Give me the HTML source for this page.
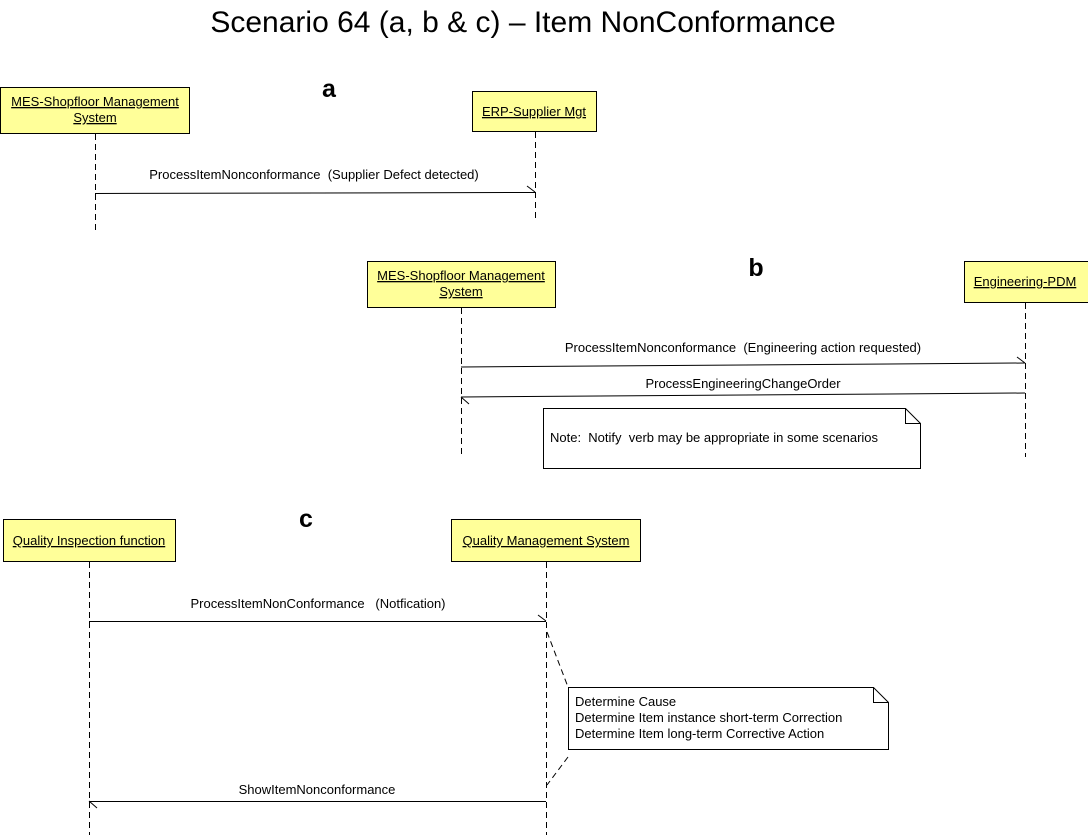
<!DOCTYPE html>
<html><head><meta charset="utf-8"><style>
html,body{margin:0;padding:0;background:#fff;width:1088px;height:835px;overflow:hidden}
svg{display:block}
text{font-family:"Liberation Sans",Arial,sans-serif;fill:#000;white-space:pre}
.s{font-size:13px}
.u{text-decoration:underline}
</style></head><body>
<svg width="1088" height="835" viewBox="0 0 1088 835" xml:space="preserve">
<text x="523" y="32" font-size="30" text-anchor="middle">Scenario 64 (a, b &amp; c) – Item NonConformance</text>
<text x="329" y="97" font-size="25" font-weight="bold" text-anchor="middle">a</text>
<text x="756" y="276" font-size="25" font-weight="bold" text-anchor="middle">b</text>
<text x="306" y="527" font-size="25" font-weight="bold" text-anchor="middle">c</text>

<g fill="#ffff99" stroke="#000" stroke-width="1">
<rect x="0.5" y="87.5" width="189" height="46"/>
<rect x="472.5" y="91.5" width="124" height="40"/>
<rect x="367.5" y="261.5" width="188" height="46"/>
<rect x="964.5" y="261.5" width="124" height="41"/>
<rect x="3.5" y="519.5" width="172" height="42"/>
<rect x="451.5" y="519.5" width="189" height="42"/>
</g>
<g class="s" text-anchor="middle">
<text x="95" y="106" class="u">MES-Shopfloor Management</text>
<text x="95" y="122" class="u">System</text>
<text x="534" y="116" class="u">ERP-Supplier Mgt</text>
<text x="461" y="280" class="u">MES-Shopfloor Management</text>
<text x="461" y="296" class="u">System</text>
<text x="1025" y="286" class="u">Engineering-PDM</text>
<text x="89" y="545" class="u">Quality Inspection function</text>
<text x="546" y="545" class="u">Quality Management System</text>
</g>

<g stroke="#000" stroke-width="1" stroke-dasharray="6,4" fill="none">
<line x1="95.5" y1="134" x2="95.5" y2="232"/>
<line x1="535.5" y1="132" x2="535.5" y2="222"/>
<line x1="461.5" y1="308" x2="461.5" y2="455"/>
<line x1="1025.5" y1="303" x2="1025.5" y2="457"/>
<line x1="89.5" y1="562" x2="89.5" y2="835"/>
<line x1="546.5" y1="562" x2="546.5" y2="835"/>
<line x1="547" y1="632" x2="568" y2="687"/>
<line x1="568" y1="757" x2="547" y2="785"/>
</g>

<g stroke="#000" stroke-width="1" fill="none">
<line x1="95" y1="193.5" x2="535" y2="192.5"/>
<line x1="527" y1="186" x2="535" y2="192"/>
<line x1="461" y1="367" x2="1025" y2="363"/>
<line x1="1017" y1="357" x2="1025" y2="363"/>
<line x1="1025" y1="393" x2="461" y2="397"/>
<line x1="469" y1="404" x2="461" y2="397"/>
<line x1="89" y1="621.5" x2="546" y2="621.5"/>
<line x1="538" y1="615" x2="546" y2="621"/>
<line x1="546" y1="801.5" x2="89" y2="801.5"/>
<line x1="97" y1="808" x2="89" y2="801"/>
</g>
<g class="s" text-anchor="middle">
<text x="314" y="179">ProcessItemNonconformance  (Supplier Defect detected)</text>
<text x="743" y="352">ProcessItemNonconformance  (Engineering action requested)</text>
<text x="743" y="388">ProcessEngineeringChangeOrder</text>
<text x="318" y="608">ProcessItemNonConformance   (Notfication)</text>
<text x="317" y="794">ShowItemNonconformance</text>
</g>

<g stroke="#000" stroke-width="1" fill="#fff">
<path d="M543.5 408.5 H905.5 L920.5 423.5 V468.5 H543.5 Z"/>
<path d="M905.5 408.5 V423.5 H920.5" fill="none"/>
<path d="M568.5 687.5 H873.5 L888.5 702.5 V749.5 H568.5 Z"/>
<path d="M873.5 687.5 V702.5 H888.5" fill="none"/>
</g>
<g class="s">
<text x="550" y="442">Note:  Notify  verb may be appropriate in some scenarios</text>
<text x="575" y="706">Determine Cause</text>
<text x="575" y="722">Determine Item instance short-term Correction</text>
<text x="575" y="738">Determine Item long-term Corrective Action</text>
</g>
</svg>
</body></html>
